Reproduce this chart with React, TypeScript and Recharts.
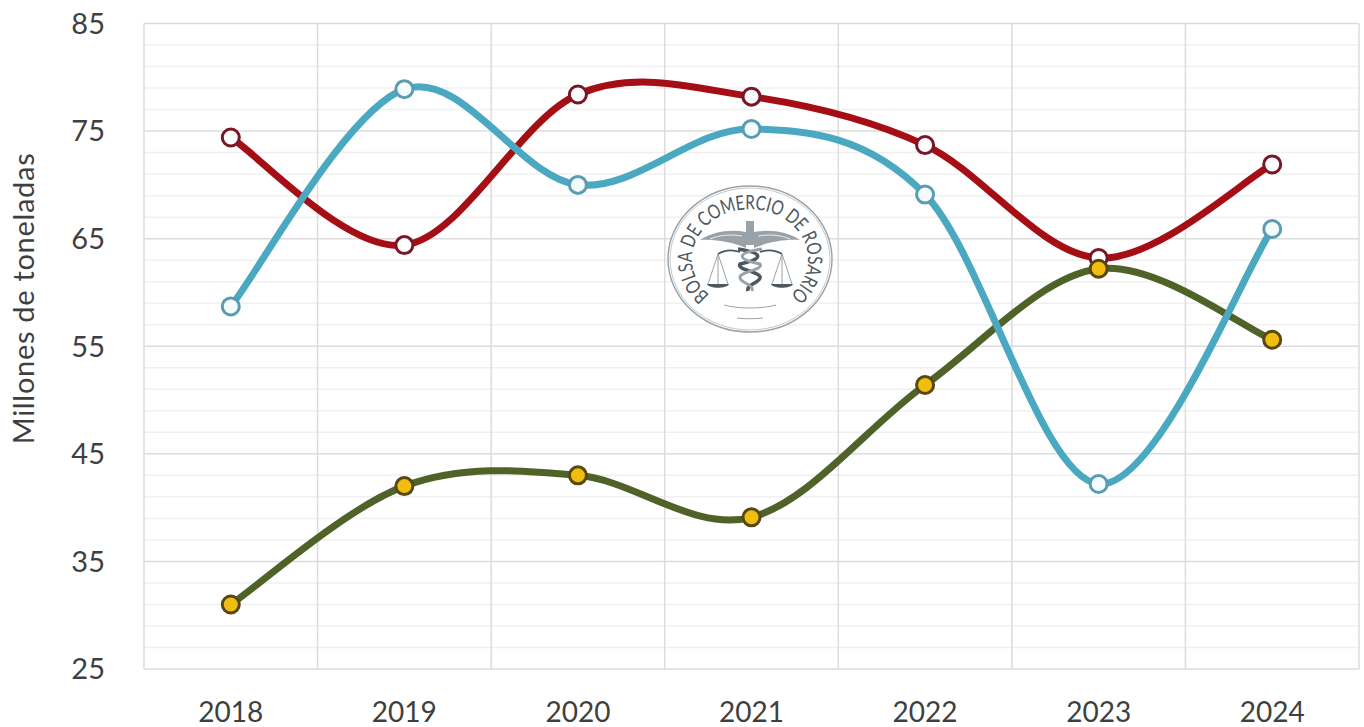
import { CartesianGrid, Line, LineChart, XAxis, YAxis } from 'recharts'

const years = ['2018', '2019', '2020', '2021', '2022', '2023', '2024']
const redSeries = [74.4, 64.4, 78.4, 78.2, 73.7, 63.2, 71.9]
const blueSeries = [58.7, 78.9, 70.0, 75.2, 69.1, 42.2, 65.9]
const greenSeries = [31.0, 42.0, 43.0, 39.1, 51.4, 62.2, 55.6]
const majorTicks = [25, 35, 45, 55, 65, 75, 85]
const minorTicks = [27, 29, 31, 33, 37, 39, 41, 43, 47, 49, 51, 53, 57, 59, 61, 63, 67, 69, 71, 73, 77, 79, 81, 83]

const rows = years.map((year, i) => ({
  year,
  red: redSeries[i],
  blue: blueSeries[i],
  green: greenSeries[i],
}))

const FONT = 'Lato, sans-serif'
const TEXT = '#3f3f3f'

// vertical grid lines sit on the category boundaries, not on the ticks
function cellEdges({ offset }: any) {
  return years.concat('').map((_, i) => offset.left + (i * offset.width) / years.length)
}

// spreadsheet-style smoothing: cubic segments with tangents from the neighbouring points
function smoothCurve(context: any) {
  let pts: [number, number][] = []
  return {
    areaStart() {},
    areaEnd() {},
    lineStart() {
      pts = []
    },
    lineEnd() {
      if (pts.length === 0) return
      context.moveTo(pts[0][0], pts[0][1])
      for (let i = 0; i < pts.length - 1; i++) {
        const p0 = pts[Math.max(i - 1, 0)]
        const p1 = pts[i]
        const p2 = pts[i + 1]
        const p3 = pts[Math.min(i + 2, pts.length - 1)]
        context.bezierCurveTo(
          p1[0] + (p2[0] - p0[0]) / 6,
          p1[1] + (p2[1] - p0[1]) / 6,
          p2[0] - (p3[0] - p1[0]) / 6,
          p2[1] - (p3[1] - p1[1]) / 6,
          p2[0],
          p2[1],
        )
      }
    },
    point(x: number, y: number) {
      pts.push([+x, +y])
    },
  }
}

function Seal() {
  const ink = '#4d5760'
  const soft = '#9aa2a9'
  return (
    <svg
      width={170}
      height={152}
      viewBox="-85 -76 170 152"
      style={{ position: 'absolute', left: 665, top: 183 }}
    >
      <defs>
        <path id="seal-text" d="M -38 38 A 58 50 0 1 1 38 38" />
      </defs>
      <ellipse rx={82} ry={73} fill="#fff" stroke={soft} strokeWidth={1.4} />
      <ellipse rx={80} ry={71} fill="none" stroke={soft} strokeWidth={0.6} />
      <text fontFamily={FONT} fontSize={20} fill={ink} textAnchor="middle">
        <textPath href="#seal-text" startOffset="50%" textLength={252} lengthAdjust="spacingAndGlyphs">
          BOLSA DE COMERCIO DE ROSARIO
        </textPath>
      </text>
      {/* staff and wings */}
      <path d="M -4 -38 H 4 V -14 H -4 Z" fill={soft} />
      <path d="M -4 -27 C -20 -30 -38 -27 -50 -19 C -32 -20 -16 -16 -4 -11 Z" fill={soft} />
      <path d="M 4 -27 C 20 -30 38 -27 50 -19 C 32 -20 16 -16 4 -11 Z" fill={soft} />
      <path d="M -8 -23 C -20 -25 -30 -24 -40 -20 M 8 -23 C 20 -25 30 -24 40 -20" fill="none" stroke="#fff" strokeWidth={0.8} />
      {/* snakes */}
      <path
        d="M -12 -10 C 14 -6 14 0 -10 5 C -14 11 12 13 10 19 C 8 25 -4 25 -2 32"
        fill="none"
        stroke={ink}
        strokeWidth={3.5}
      />
      <path
        d="M 12 -10 C -14 -6 -14 0 10 5 C 14 11 -12 13 -10 19 C -8 25 4 25 2 32"
        fill="none"
        stroke={soft}
        strokeWidth={3}
      />
      {/* balance */}
      <path d="M -32 -5 C -24 -10 -16 -9 -10 -7 M 32 -5 C 24 -10 16 -9 10 -7" fill="none" stroke={ink} strokeWidth={1.6} />
      <path d="M -32 -5 L -42 25 M -32 -5 L -22 25 M -32 -5 V 25" stroke={soft} strokeWidth={1} fill="none" />
      <path d="M 32 -5 L 22 25 M 32 -5 L 42 25 M 32 -5 V 25" stroke={soft} strokeWidth={1} fill="none" />
      <path d="M -43 25 H -21 C -23 30 -41 30 -43 25 Z M 21 25 H 43 C 41 30 23 30 21 25 Z" fill={ink} />
      <path d="M -26 46 C -12 50 12 50 26 46 M -13 59 C -6 60 6 60 13 59" fill="none" stroke={soft} strokeWidth={1} />
    </svg>
  )
}

export default function App() {
  const series = [
    { key: 'red', stroke: '#a50e14', dotStroke: '#761828', dotFill: '#ffffff' },
    { key: 'green', stroke: '#4f6228', dotStroke: '#57480f', dotFill: '#f0bd10' },
    { key: 'blue', stroke: '#4ba8c1', dotStroke: '#5a9db2', dotFill: '#f4fbfd' },
  ]

  return (
    <div style={{ position: 'absolute', left: 0, top: 0, width: 1364, height: 727, background: '#fff' }}>
      <LineChart
        width={1364}
        height={727}
        data={rows}
        margin={{ top: 23.5, right: 5, bottom: 0, left: 0 }}
      >
        <CartesianGrid vertical={false} horizontalValues={minorTicks} stroke="#f0f0f0" strokeWidth={1.5} />
        <CartesianGrid vertical={false} horizontalValues={majorTicks} stroke="#dcdcdc" strokeWidth={1.5} />
        <CartesianGrid horizontal={false} verticalCoordinatesGenerator={cellEdges} stroke="#dcdcdc" strokeWidth={1.5} />
        <XAxis
          dataKey="year"
          scale="band"
          height={58}
          axisLine={false}
          tickLine={false}
          interval={0}
          tickMargin={27}
          tick={{ fontFamily: FONT, fontSize: 28, fill: TEXT }}
        />
        <YAxis
          domain={[25, 85]}
          ticks={majorTicks}
          width={144}
          interval={0}
          axisLine={false}
          tickLine={false}
          tickMargin={33}
          tick={{ fontFamily: FONT, fontSize: 29, fill: TEXT }}
          label={{
            value: 'Millones de toneladas',
            angle: -90,
            position: 'insideLeft',
            dx: 19,
            dy: 98,
            style: { fontFamily: FONT, fontSize: 29, letterSpacing: 0.7, fill: TEXT },
          }}
        />
        {series.map((s) => (
          <Line
            key={s.key}
            dataKey={s.key}
            type={smoothCurve as any}
            stroke={s.stroke}
            strokeWidth={7}
            dot={{ r: 8.5, fill: s.dotFill, stroke: s.dotStroke, strokeWidth: 3 }}
            isAnimationActive={false}
          />
        ))}
      </LineChart>
      <Seal />
    </div>
  )
}
